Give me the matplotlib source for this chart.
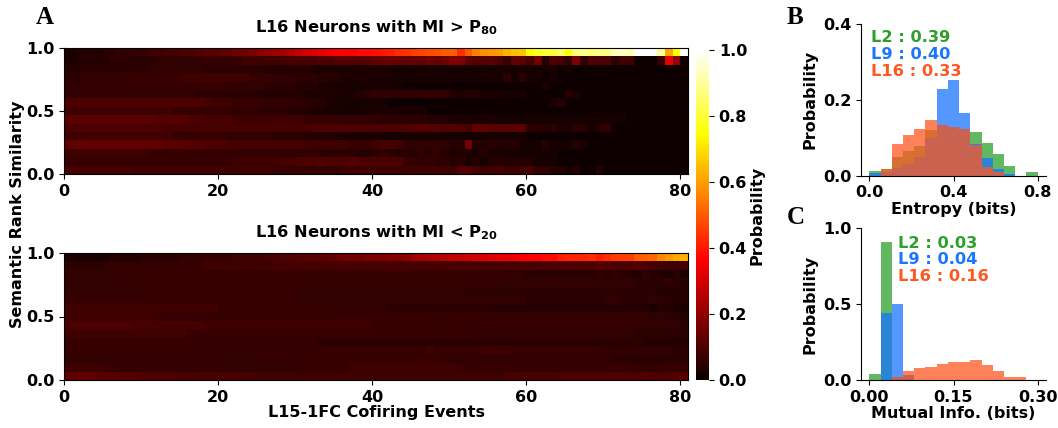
import numpy as np
import matplotlib
matplotlib.use("Agg")
import matplotlib.pyplot as plt

plt.rcParams['font.family'] = ['DejaVu Sans']
plt.rcParams['font.weight'] = 'bold'
plt.rcParams['axes.labelweight'] = 'bold'
plt.rcParams['axes.titleweight'] = 'bold'
plt.rcParams['font.size'] = 11.5
plt.rcParams['mathtext.default'] = 'bf'

# cofiring-event probability maps, rows listed from similarity 1.0 (top) down to 0.0, values in %
hi_rows = [
    [3,3,4,4,4,5,5,6,6, 7,7,8,8,9,9,10,10, 11,12,12,13,14,15,16,17, 19,20,22,23,25, 28,30,31,33, 35,36,37,37,38,38,
     39,40,41,43,44,46,47,48,49,50,51, 43,50, 56,58,59,60, 63,65,66, 74, 79,80,81, 84, 75, 87,88,86,88,87, 93,94,92, 100,100,100, 90,62,75,100],
    [3,3,4,4,4,4,5,5,5,5, 5,5,6,6,6,6,6,7,7,7, 7,7,7,8,8,8,8,8,8,9, 9,9,9,10,10,11,11,11,11,12,
     13,14,14,14,13,14,13,15,14,15, 18,17,12,11,11,12,10,7,13,12, 9,15,4,10,9,6,17,6,10,10, 10,5,8,8,1,1,1,6,33,20, 1],
    [4,4,5,5,5,5,5,5,5,5, 5,6,6,6,6,6,6,6,5,5, 5,5,5,5,5,5,4,4,4,4, 4,4,3,3,3,3,3,3,3,3,
     3,3,2,2,2,2,2,3,2,2, 2,2,2,2,2,2,2,3,2,2, 2,2,2,3,1,2,1,1,1,1, 1,1,1,1,1,1,1,1,1,1, 1],
    [5,5,6,6,6,6,6,6,7,7, 7,7,7,7,7,8,8,8,8,8, 8,8,8,8,7,7,7,6,6,6, 5,5,5,4,4,4,3,3,3,3,
     3,3,3,2,2,2,2,2,2,2, 2,2,2,2,2,3,2,5,2,5, 2,2,1,2,1,1,1,1,1,1, 1,1,1,1,1,1,1,1,1,1, 1],
    [6,6,7,7,7,7,7,7,7,7, 7,7,7,7,7,7,7,7,7,7, 7,6,6,6,6,6,5,5,5,5, 4,4,4,3,3,2,2,2,2,2,
     2,2,2,2,1,1,1,1,1,1, 1,1,1,1,1,1,1,1,1,1, 1,1,3,1,1,1,1,1,1,1, 1,1,1,1,1,1,1,1,1,1, 1],
    [6,6,6,6,6,6,6,6,6,6, 6,6,6,6,6,6,6,5,5,5, 5,5,5,5,5,4,4,4,4,4, 4,3,3,3,3,3,3,3,4,5,
     6,6,6,6,6,6,6,7,6,6, 4,3,4,4,3,3,3,2,2,2, 1,1,1,1,1,4,3,1,1,1, 1,1,1,1,1,1,1,1,1,1, 1],
    [10,10,10,10,10,10,10,10,10,10, 10,10,10,10,10,10,10,10,9,8, 8,8,7,7,7,7,6,6,6,6, 5,5,4,4,3,3,2,2,2,2,
     2,2,1,1,1,1,1,1,1,1, 1,1,1,1,1,1,1,1,1,1, 1,1,1,3,4,1,1,1,1,1, 1,1,1,1,1,1,1,1,1,1, 1],
    [8,8,8,8,8,8,8,8,8,8, 8,8,8,8,7,7,7,7,7,7, 6,6,6,6,6,5,5,5,5,4, 4,4,3,3,2,2,2,2,2,3,
     3,3,3,3,3,3,3,1,1,1, 1,1,1,1,1,1,1,1,1,1, 1,1,1,1,1,1,1,1,1,1, 1,1,1,1,1,1,1,1,1,1, 1],
    [12,12,12,12,12,12,12,12,12,12, 12,12,11,11,11,11,10,10,9,9, 9,9,8,8,8,8,8,8,8,8, 8,7,7,7,7,7,6,6,6,6,
     6,5,5,5,5,5,5,4,4,4, 3,3,3,3,3,3,2,2,2,2, 2,2,2,2,2,2,2,2,2,2, 2,2,2,1,1,1,1,1,1,1, 1],
    [10,10,10,10,10,10,10,10,10,10, 10,10,10,9,9,9,9,9,9,9, 9,9,9,9,9,9,9,9,9,9, 9,9,10,10,10,10,10,10,10,10,
     10,10,10,10,10,11,11,11,12,10, 11,10,9,13,13,12,12,12,12,12, 5,5,4,5,3,3,5,5,2,5, 6,1,1,1,1,1,1,1,1,1, 1],
    [8,8,8,8,8,8,8,8,8,8, 8,8,8,8,7,7,7,7,7,7, 7,6,6,6,6,6,6,5,5,5, 5,4,4,4,4,3,3,3,3,3,
     3,2,2,2,2,2,2,2,2,2, 2,2,2,2,2,2,2,2,2,2, 1,1,1,1,1,1,1,1,1,1, 1,1,1,1,1,1,1,1,1,1, 1],
    [13,13,13,13,13,13,13,13,13,13, 13,13,13,12,12,12,11,11,10,10, 10,9,9,9,9,9,9,9,9,9, 9,8,8,8,8,8,8,7,7,7,
     8,9,9,8,6,6,6,6,6,6, 4,4,16,4,4,5,4,4,4,2, 2,2,4,2,2,2,4,2,1,1, 1,1,1,1,1,1,1,1,1,1, 1],
    [8,8,8,8,8,8,8,8,8,8, 8,7,7,7,7,7,7,7,7,7, 7,7,7,6,6,6,6,6,6,6, 6,6,6,5,5,5,5,5,4,4,
     5,6,5,4,5,4,6,5,6,4, 3,4,3,2,4,3,3,2,2,2, 2,2,2,2,1,1,1,1,1,1, 1,1,1,1,1,1,1,1,1,1, 1],
    [7,7,7,7,7,7,7,7,7,7, 7,7,7,7,7,7,7,7,7,7, 7,7,8,8,8,8,8,8,9,9, 10,10,10,11,10,10,10,11,10,10,
     10,10,10,10,7,7,6,6,5,6, 4,5,3,4,2,4,4,4,4,4, 4,2,2,2,1,1,1,1,1,1, 1,1,1,1,1,1,1,1,1,1, 1],
    [9,9,9,9,9,9,9,9,9,8, 8,8,8,8,8,8,8,8,8,8, 8,8,8,8,8,8,8,7,7,7, 7,7,7,7,7,7,8,8,8,8,
     8,8,8,8,8,8,8,8,8,8, 8,11,11,9,8,8,9,8,8,8, 9,6,6,4,4,2,4,1,1,4, 1,1,1,1,1,1,1,1,1,1, 1],
]

lo_rows = [
    [3,3,3,3,3,3,4,4,4,4, 5,5,5,5,5,6,6,6,7,7, 7,7,8,8,8,8,9,9,10,10, 11,11,12,12,13,14,15,15,16,17,
     17,17,18,18,19,22,23,24,25,26, 27,28,29,30,31,32,33,33,34,36, 37,37,38,38,41,42,42,42,43,41, 43,45,46,46,50,51,52,57,59,62, 63],
    [5,5,5,5,5,6,6,6,6,6, 6,6,7,7,7,7,7,7,8,8, 8,8,8,8,8,8,8,9,9,9, 9,9,9,9,9,9,9,9,9,9,
     9,9,9,9,9,9,9,9,9,9, 9,9,9,9,9,9,9,9,9,9, 9,9,10,10,10,10,10,10,10,11, 11,10,10,10,11,10,9,8,8,8, 9],
    [6,6,6,6,6,6,6,7,7,7, 7,7,7,7,7,7,7,7,7,7, 7,7,7,7,7,7,7,7,7,7, 7,7,7,7,7,7,7,7,7,7,
     7,7,7,7,7,7,7,7,7,7, 7,7,7,7,7,7,7,6,6,6, 5,5,5,5,5,5,5,5,5,6, 5,6,5,4,4,6,4,4,3,5, 3],
    [6,6,6,6,6,7,7,7,7,7, 7,7,7,7,7,7,7,7,7,7, 7,7,7,7,7,7,7,7,7,7, 7,7,7,7,7,7,7,7,7,7,
     7,7,7,7,7,7,7,7,7,7, 7,7,7,7,7,7,6,6,6,6, 6,6,6,7,6,6,6,6,6,6, 6,6,6,6,5,5,5,5,6,5, 4],
    [6,6,6,6,6,6,6,6,6,6, 7,7,7,7,7,7,7,7,7,7, 7,7,7,7,7,7,7,7,7,7, 6,6,6,6,6,6,6,6,6,6,
     6,6,6,6,6,6,6,6,6,6, 6,6,5,5,5,5,5,5,5,5, 5,5,5,5,5,5,5,5,5,5, 5,5,5,5,5,5,5,4,4,4, 4],
    [7,7,7,7,7,7,7,7,7,7, 7,7,7,7,7,7,7,7,7,7, 7,7,7,7,7,7,7,7,7,7, 6,6,6,6,6,6,6,6,6,6,
     6,6,6,6,6,6,6,6,6,6, 6,6,6,6,6,7,6,6,6,6, 5,5,5,5,5,5,5,5,5,5, 6,6,5,5,5,5,6,5,5,4, 4],
    [8,8,8,8,8,8,8,8,8,8, 8,8,8,8,8,8,8,8,8,8, 7,7,7,7,7,7,7,7,7,7, 7,7,7,7,7,6,6,6,6,6,
     6,6,5,5,5,5,5,5,5,5, 5,5,5,5,5,5,4,4,4,4, 4,4,4,4,4,4,4,4,4,4, 4,4,4,4,4,4,3,4,4,3, 3],
    [8,8,8,8,8,8,8,8,8,8, 8,8,7,7,7,7,7,7,7,7, 7,7,7,7,7,7,7,7,7,7, 7,7,7,7,7,7,7,7,7,7,
     7,7,7,7,7,7,7,7,6,6, 7,7,7,7,6,6,6,6,6,6, 6,6,6,6,6,6,6,6,6,6, 6,6,6,6,6,6,5,6,5,5, 4],
    [10,10,10,10,10,10,10,10,10,9, 9,9,9,9,9,9,9,9,8,8, 8,8,8,8,8,8,8,8,8,8, 8,8,8,8,8,8,8,8,8,8,
     7,7,7,7,7,7,7,7,7,7, 7,7,7,7,7,7,7,7,7,7, 7,7,7,7,7,7,7,7,7,7, 7,7,7,6,7,7,6,6,6,6, 5],
    [8,8,8,8,8,8,8,8,8,8, 8,8,8,8,8,8,7,7,7,7, 7,7,7,7,7,7,7,7,7,7, 7,7,7,7,7,7,7,7,7,7,
     7,7,7,7,7,7,7,7,7,7, 7,7,7,6,6,6,6,6,6,6, 6,6,6,6,6,6,6,6,6,6, 6,6,6,6,5,5,5,5,5,5, 5],
    [7,7,7,7,7,7,7,7,7,7, 7,7,7,7,7,7,7,7,6,6, 6,6,6,6,6,6,6,6,6,6, 6,6,6,5,5,5,5,5,5,5,
     5,5,5,5,5,5,5,5,5,5, 5,5,5,5,5,5,5,5,5,5, 5,5,5,5,5,5,5,5,5,5, 5,5,5,5,5,4,4,4,4,4, 4],
    [7,7,7,7,7,7,7,7,7,7, 7,7,7,7,7,7,7,7,7,7, 7,7,7,7,7,7,7,7,7,7, 7,7,7,7,7,7,7,7,7,7,
     7,7,7,7,7,7,7,8,7,7, 7,7,7,7,8,8,8,8,7,7, 7,7,7,7,7,7,7,7,7,7, 6,6,6,6,6,6,6,6,6,5, 5],
    [6,6,6,6,6,6,6,6,6,6, 6,6,6,6,6,6,6,6,6,6, 6,6,6,6,6,6,7,7,7,7, 7,7,7,7,7,7,7,7,7,7,
     7,7,7,7,7,7,7,7,7,7, 6,6,6,6,6,6,6,6,6,6, 6,6,6,6,6,6,6,6,6,6, 6,5,5,5,5,5,5,5,5,5, 5],
    [8,8,8,8,8,7,7,7,7,7, 7,7,7,7,7,7,7,7,7,7, 7,7,6,6,6,6,6,6,6,6, 7,7,7,7,7,7,7,8,8,8,
     8,8,8,8,8,8,8,8,8,8, 8,7,7,7,7,7,7,7,7,7, 7,7,7,7,7,7,7,7,7,7, 7,7,7,7,6,6,6,6,7,7, 7],
    [13,13,13,13,12,12,12,11,11,11, 10,10,10,10,10,9,9,9,9,9, 9,9,9,9,9,8,8,8,8,8, 8,8,8,8,8,8,8,8,8,8,
     8,8,8,8,8,8,8,8,8,8, 8,8,8,8,8,8,8,9,9,9, 9,9,9,9,10,10,10,10,10,10, 10,10,10,10,10,11,10,10,10,11, 11],
]
n_events = 81

# entropy histograms (15 bins over 0..0.8 bits)
ent_edges = np.linspace(0, 0.8, 16)
ent_L2 = [0.012, 0.017, 0.048, 0.064, 0.077, 0.121, 0.133, 0.128, 0.122, 0.115, 0.086, 0.056, 0.026, 0.0, 0.010]
ent_L9 = [0.007, 0.010, 0.020, 0.030, 0.050, 0.100, 0.229, 0.253, 0.166, 0.084, 0.047, 0.018, 0.004, 0.0, 0.0]
ent_L16 = [0.0, 0.017, 0.083, 0.106, 0.122, 0.146, 0.133, 0.128, 0.122, 0.082, 0.024, 0.011, 0.0, 0.0, 0.0]

# mutual information histograms (15 bins over 0..0.3 bits)
mi_edges = np.linspace(0, 0.3, 16)
mi_L2 = [0.04, 0.908, 0.02, 0.03, 0.0, 0.0, 0.0, 0.0, 0.0, 0.0, 0.0, 0.0, 0.0, 0.0, 0.0]
mi_L9 = [0.0, 0.44, 0.50, 0.033, 0.0, 0.0, 0.0, 0.0, 0.0, 0.0, 0.0, 0.0, 0.0, 0.0, 0.0]
mi_L16 = [0.0, 0.0, 0.022, 0.06, 0.081, 0.083, 0.105, 0.119, 0.116, 0.132, 0.101, 0.062, 0.022, 0.018, 0.0]

layers = ['L2', 'L9', 'L16']
ent_means = [0.39, 0.40, 0.33]
mi_means = [0.03, 0.04, 0.16]
colors = ['#2ca02c', '#1a75ff', '#ff5722']

W, H = 1058, 428
fig = plt.figure(figsize=(W / 100, H / 100), dpi=100)


def box(x0, y0, x1, y1):
    return [x0 / W, 1 - y1 / H, (x1 - x0) / W, (y1 - y0) / H]


ax_hi = fig.add_axes(box(64, 48, 688, 174))
ax_lo = fig.add_axes(box(64, 253, 688, 380))
cax = fig.add_axes(box(696, 50, 709, 380))
ax_ent = fig.add_axes(box(861, 24, 1046, 175.7))
ax_mi = fig.add_axes(box(861, 228, 1046, 380))

titles = [r'L16 Neurons with MI > P$_{80}$', r'L16 Neurons with MI < P$_{20}$']
for ax, rows, title in zip([ax_hi, ax_lo], [hi_rows, lo_rows], titles):
    img = ax.imshow(np.array(rows) / 100.0, cmap='hot', vmin=0, vmax=1, aspect='auto',
                    interpolation='nearest', extent=[0, n_events, 0, 1])
    ax.set_xticks([0, 20, 40, 60, 80])
    ax.set_yticks([0.0, 0.5, 1.0])
    ax.set_title(title, fontsize=11.7, pad=11)

cb = fig.colorbar(img, cax=cax)
cb.set_ticks([0.0, 0.2, 0.4, 0.6, 0.8, 1.0])
cb.outline.set_visible(False)
cb.set_label('Probability', labelpad=2)

fig.text(18 / W, 0.5, 'Semantic Rank Similarity', rotation=90, ha='center', va='center')
fig.text(376 / W, 1 - 412 / H, 'L15-1FC Cofiring Events', ha='center', va='center')

for ax, edges, series, means, ylim, yt, xlim, xt, xl, tx, ty in [
        (ax_ent, ent_edges, [ent_L2, ent_L9, ent_L16], ent_means, 0.4, [0.0, 0.2, 0.4],
         (-0.04, 0.84), [0.0, 0.4, 0.8], 'Entropy (bits)', 0.054, [0.908, 0.796, 0.69]),
        (ax_mi, mi_edges, [mi_L2, mi_L9, mi_L16], mi_means, 1.0, [0.0, 0.5, 1.0],
         (-0.015, 0.315), [0.0, 0.15, 0.3], 'Mutual Info. (bits)', 0.2, [0.901, 0.793, 0.684])]:
    for vals, c in zip(series, colors):
        ax.stairs(vals, edges, fill=True, color=c, alpha=0.75, lw=0)
    for name, m, c, y in zip(layers, means, colors, ty):
        ax.text(tx, y, f'{name} : {m:.2f}', color=c, transform=ax.transAxes,
                va='center', ha='left', fontsize=11.7)
    ax.set_ylim(0, ylim)
    ax.set_yticks(yt)
    ax.set_xlim(*xlim)
    ax.set_xticks(xt)
    if ax is ax_mi:
        ax.set_xticklabels(['0.00', '0.15', '0.30'])
    ax.set_xlabel(xl, labelpad=1)
    ax.set_ylabel('Probability')
    ax.spines['top'].set_visible(False)
    ax.spines['right'].set_visible(False)

for letter, x, y in [('A', 45, 18), ('B', 795, 18), ('C', 796, 218)]:
    fig.text(x / W, 1 - y / H, letter, fontsize=18, family='Liberation Serif',
             weight='bold', ha='center', va='center')

fig.savefig('out.png', dpi=100)
